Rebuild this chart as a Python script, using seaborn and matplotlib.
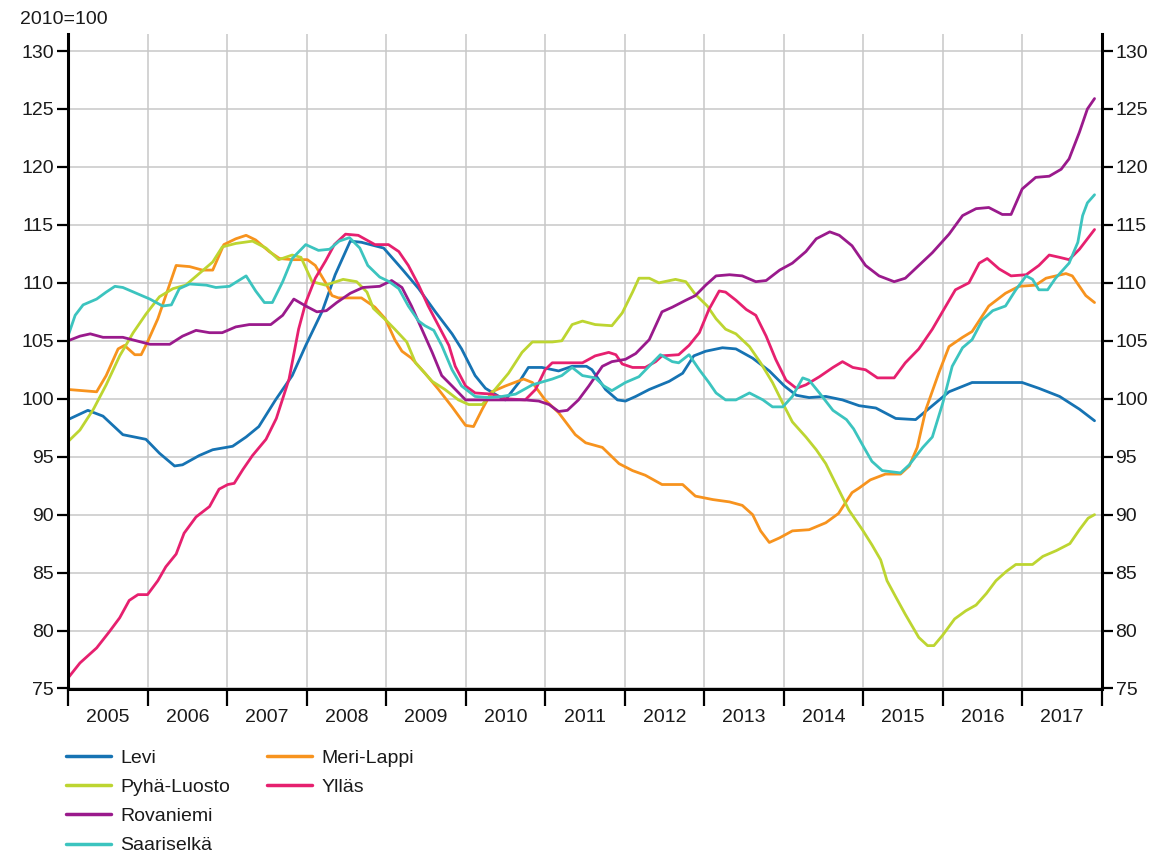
import matplotlib
matplotlib.use("Agg")
import matplotlib.pyplot as plt
import pandas as pd
import seaborn as sns
from matplotlib.lines import Line2D

sns.set_theme(style="white")
plt.rcParams["font.family"] = ["Liberation Sans", "DejaVu Sans"]

# ---------------- data (index 2010=100) ----------------
levi_t = [2005.0, 2005.25, 2005.44, 2005.69, 2005.98, 2006.15, 2006.34, 2006.44, 2006.65, 2006.82,
          2007.07, 2007.24, 2007.40, 2007.61, 2007.82, 2007.99, 2008.2, 2008.36, 2008.55, 2008.69,
          2008.97, 2009.20, 2009.41, 2009.62, 2009.83, 2009.95, 2010.12, 2010.25, 2010.42, 2010.50,
          2010.67, 2010.79, 2010.96, 2011.17, 2011.34, 2011.52, 2011.59, 2011.76, 2011.91, 2012.01,
          2012.14, 2012.31, 2012.56, 2012.73, 2012.87, 2013.02, 2013.23, 2013.40, 2013.61, 2013.82,
          2014.01, 2014.16, 2014.32, 2014.53, 2014.74, 2014.95, 2015.16, 2015.41, 2015.66, 2015.87,
          2016.08, 2016.37, 2016.67, 2017.00, 2017.21, 2017.47, 2017.72, 2017.91]
levi_v = [98.2, 99.0, 98.5, 96.9, 96.5, 95.3, 94.2, 94.3, 95.1, 95.6,
          95.9, 96.7, 97.6, 99.9, 102.0, 104.6, 107.6, 110.7, 113.6, 113.5,
          113.0, 111.2, 109.5, 107.5, 105.6, 104.3, 102.0, 100.9, 100.2, 99.9,
          101.4, 102.7, 102.7, 102.4, 102.8, 102.8, 102.5, 100.8, 99.9, 99.8,
          100.2, 100.8, 101.5, 102.2, 103.7, 104.1, 104.4, 104.3, 103.5, 102.4,
          101.1, 100.3, 100.1, 100.2, 99.9, 99.4, 99.2, 98.3, 98.2, 99.4,
          100.6, 101.4, 101.4, 101.4, 100.9, 100.2, 99.1, 98.1]

meri_t = [2005.0, 2005.36, 2005.48, 2005.63, 2005.71, 2005.84, 2005.92, 2006.0, 2006.13, 2006.23,
          2006.36, 2006.53, 2006.69, 2006.82, 2006.96, 2007.11, 2007.24, 2007.36, 2007.53, 2007.66,
          2007.82, 2008.01, 2008.11, 2008.24, 2008.32, 2008.40, 2008.69, 2008.86, 2008.99, 2009.11,
          2009.20, 2009.32, 2009.49, 2009.66, 2009.83, 2010.0, 2010.10, 2010.21, 2010.33, 2010.50,
          2010.73, 2010.84, 2011.0, 2011.17, 2011.38, 2011.51, 2011.72, 2011.93, 2012.10, 2012.26,
          2012.47, 2012.73, 2012.89, 2013.11, 2013.32, 2013.48, 2013.61, 2013.71, 2013.82, 2013.95,
          2014.11, 2014.32, 2014.53, 2014.69, 2014.86, 2014.95, 2015.09, 2015.28, 2015.47, 2015.58,
          2015.68, 2015.79, 2015.95, 2016.08, 2016.25, 2016.37, 2016.58, 2016.79, 2016.96, 2017.17,
          2017.30, 2017.55, 2017.63, 2017.80, 2017.91]
meri_v = [100.8, 100.6, 102.0, 104.3, 104.6, 103.8, 103.8, 104.9, 106.9, 108.9,
          111.5, 111.4, 111.1, 111.1, 113.3, 113.8, 114.1, 113.7, 112.7, 112.1,
          112.0, 112.0, 111.5, 110.0, 108.9, 108.7, 108.7, 107.9, 106.9, 105.1,
          104.1, 103.5, 102.2, 100.8, 99.3, 97.7, 97.6, 99.1, 100.6, 101.1,
          101.7, 101.4, 99.9, 98.8, 96.9, 96.2, 95.8, 94.4, 93.8, 93.4,
          92.6, 92.6, 91.6, 91.3, 91.1, 90.8, 90.0, 88.6, 87.6, 88.0,
          88.6, 88.7, 89.3, 90.1, 91.9, 92.3, 93.0, 93.5, 93.5, 94.2,
          95.8, 99.1, 102.2, 104.5, 105.3, 105.8, 108.0, 109.1, 109.7, 109.8,
          110.4, 110.8, 110.6, 108.9, 108.3]

pyha_t = [2005.0, 2005.15, 2005.32, 2005.48, 2005.65, 2005.82, 2005.98, 2006.15, 2006.32, 2006.48,
          2006.65, 2006.82, 2006.94, 2007.11, 2007.32, 2007.49, 2007.65, 2007.82, 2007.93, 2008.07,
          2008.24, 2008.46, 2008.63, 2008.76, 2008.84, 2009.01, 2009.11, 2009.26, 2009.37, 2009.58,
          2009.74, 2009.91, 2010.04, 2010.21, 2010.37, 2010.54, 2010.71, 2010.84, 2011.09, 2011.21,
          2011.34, 2011.47, 2011.63, 2011.84, 2011.97, 2012.10, 2012.18, 2012.31, 2012.43, 2012.64,
          2012.77, 2012.89, 2013.04, 2013.15, 2013.27, 2013.40, 2013.57, 2013.71, 2013.86, 2013.99,
          2014.11, 2014.28, 2014.41, 2014.53, 2014.66, 2014.82, 2014.99, 2015.11, 2015.22, 2015.30,
          2015.41, 2015.53, 2015.70, 2015.81, 2015.89, 2016.00, 2016.15, 2016.29, 2016.42, 2016.55,
          2016.67, 2016.80, 2016.92, 2017.13, 2017.26, 2017.43, 2017.60, 2017.72, 2017.83, 2017.91]
pyha_v = [96.3, 97.3, 99.1, 101.2, 103.7, 105.7, 107.3, 108.8, 109.5, 109.8,
          110.8, 111.8, 113.1, 113.4, 113.6, 113.0, 112.0, 112.4, 112.2, 110.1,
          109.8, 110.3, 110.1, 109.2, 107.8, 106.7, 106.0, 104.9, 103.1, 101.5,
          100.8, 99.9, 99.5, 99.5, 100.8, 102.2, 104.0, 104.9, 104.9, 105.0,
          106.4, 106.7, 106.4, 106.3, 107.4, 109.2, 110.4, 110.4, 110.0, 110.3,
          110.1, 109.0, 108.0, 106.9, 106.0, 105.6, 104.5, 103.1, 101.4, 99.6,
          98.0, 96.7, 95.6, 94.4, 92.6, 90.4, 88.7, 87.4, 86.1, 84.3,
          82.9, 81.4, 79.4, 78.7, 78.7, 79.6, 81.0, 81.7, 82.2, 83.2,
          84.3, 85.1, 85.7, 85.7, 86.4, 86.9, 87.5, 88.7, 89.7, 90.0]

rova_t = [2005.0, 2005.15, 2005.28, 2005.44, 2005.69, 2005.86, 2006.03, 2006.28, 2006.44, 2006.61,
          2006.78, 2006.94, 2007.11, 2007.28, 2007.55, 2007.70, 2007.84, 2007.99, 2008.13, 2008.25,
          2008.38, 2008.55, 2008.71, 2008.92, 2009.07, 2009.20, 2009.32, 2009.45, 2009.58, 2009.70,
          2009.83, 2010.0, 2010.25, 2010.50, 2010.75, 2010.92, 2011.05, 2011.17, 2011.28, 2011.42,
          2011.55, 2011.72, 2011.84, 2012.01, 2012.14, 2012.31, 2012.47, 2012.60, 2012.77, 2012.89,
          2013.02, 2013.15, 2013.32, 2013.48, 2013.65, 2013.78, 2013.95, 2014.11, 2014.28, 2014.41,
          2014.58, 2014.70, 2014.86, 2015.03, 2015.20, 2015.39, 2015.53, 2015.70, 2015.87, 2016.08,
          2016.25, 2016.42, 2016.58, 2016.75, 2016.86, 2017.00, 2017.17, 2017.34, 2017.49, 2017.59,
          2017.72, 2017.82, 2017.91]
rova_v = [105.0, 105.4, 105.6, 105.3, 105.3, 105.0, 104.7, 104.7, 105.4, 105.9,
          105.7, 105.7, 106.2, 106.4, 106.4, 107.2, 108.6, 108.0, 107.5, 107.6,
          108.3, 109.1, 109.6, 109.7, 110.2, 109.6, 108.0, 106.0, 104.0, 102.0,
          101.1, 99.9, 99.9, 99.9, 99.9, 99.8, 99.5, 98.9, 99.0, 99.9,
          101.1, 102.8, 103.2, 103.4, 103.9, 105.1, 107.5, 107.9, 108.5, 108.9,
          109.8, 110.6, 110.7, 110.6, 110.1, 110.2, 111.1, 111.7, 112.7, 113.8,
          114.4, 114.1, 113.2, 111.5, 110.6, 110.1, 110.4, 111.5, 112.6, 114.2,
          115.8, 116.4, 116.5, 115.9, 115.9, 118.1, 119.1, 119.2, 119.8, 120.7,
          123.0, 125.0, 125.9]

saari_t = [2005.0, 2005.09, 2005.19, 2005.36, 2005.48, 2005.59, 2005.69, 2005.86, 2006.03, 2006.19,
           2006.30, 2006.40, 2006.53, 2006.74, 2006.86, 2007.03, 2007.24, 2007.36, 2007.47, 2007.57,
           2007.70, 2007.82, 2007.99, 2008.15, 2008.29, 2008.41, 2008.54, 2008.67, 2008.77, 2008.92,
           2009.04, 2009.16, 2009.28, 2009.41, 2009.49, 2009.60, 2009.70, 2009.83, 2009.95, 2010.12,
           2010.29, 2010.46, 2010.63, 2010.84, 2011.09, 2011.21, 2011.34, 2011.47, 2011.63, 2011.74,
           2011.84, 2012.01, 2012.18, 2012.35, 2012.45, 2012.60, 2012.68, 2012.81, 2012.94, 2013.06,
           2013.15, 2013.27, 2013.40, 2013.57, 2013.74, 2013.86, 2013.99, 2014.11, 2014.24, 2014.32,
           2014.45, 2014.62, 2014.79, 2014.88, 2015.01, 2015.11, 2015.24, 2015.47, 2015.58, 2015.75,
           2015.87, 2016.00, 2016.12, 2016.25, 2016.37, 2016.50, 2016.63, 2016.79, 2016.92, 2017.05,
           2017.13, 2017.21, 2017.32, 2017.42, 2017.59, 2017.70, 2017.76, 2017.82, 2017.91]
saari_v = [105.4, 107.2, 108.1, 108.6, 109.2, 109.7, 109.6, 109.1, 108.6, 108.0,
           108.1, 109.5, 109.9, 109.8, 109.6, 109.7, 110.6, 109.3, 108.3, 108.3,
           110.1, 112.1, 113.3, 112.8, 112.9, 113.6, 113.9, 113.0, 111.5, 110.5,
           110.1, 109.5, 108.0, 106.7, 106.3, 105.9, 104.6, 102.5, 101.1, 100.2,
           100.1, 100.2, 100.4, 101.2, 101.7, 102.0, 102.7, 102.0, 101.8, 101.1,
           100.7, 101.4, 101.9, 103.1, 103.8, 103.2, 103.1, 103.8, 102.5, 101.4,
           100.5, 99.9, 99.9, 100.5, 99.9, 99.3, 99.3, 100.2, 101.8, 101.6,
           100.5, 99.0, 98.2, 97.4, 95.8, 94.6, 93.8, 93.6, 94.3, 95.8,
           96.7, 99.6, 102.8, 104.4, 105.1, 106.8, 107.6, 108.0, 109.4, 110.6,
           110.3, 109.4, 109.4, 110.4, 111.7, 113.5, 115.8, 116.9, 117.6]

ylla_t = [2005.0, 2005.15, 2005.36, 2005.52, 2005.65, 2005.77, 2005.88, 2006.0, 2006.13, 2006.23,
          2006.36, 2006.46, 2006.61, 2006.78, 2006.90, 2007.01, 2007.09, 2007.20, 2007.32, 2007.49,
          2007.62, 2007.78, 2007.90, 2007.99, 2008.11, 2008.24, 2008.35, 2008.49, 2008.65, 2008.86,
          2009.03, 2009.16, 2009.28, 2009.41, 2009.53, 2009.66, 2009.79, 2009.87, 2010.0, 2010.12,
          2010.33, 2010.50, 2010.75, 2010.88, 2011.00, 2011.09, 2011.26, 2011.47, 2011.63, 2011.80,
          2011.89, 2011.97, 2012.10, 2012.26, 2012.39, 2012.47, 2012.68, 2012.81, 2012.94, 2013.06,
          2013.19, 2013.27, 2013.40, 2013.53, 2013.65, 2013.78, 2013.90, 2014.03, 2014.16, 2014.28,
          2014.45, 2014.62, 2014.74, 2014.87, 2015.03, 2015.18, 2015.39, 2015.53, 2015.70, 2015.87,
          2016.04, 2016.16, 2016.33, 2016.46, 2016.56, 2016.71, 2016.86, 2017.05, 2017.21, 2017.34,
          2017.47, 2017.59, 2017.72, 2017.91]
ylla_v = [75.9, 77.2, 78.5, 79.9, 81.1, 82.6, 83.1, 83.1, 84.3, 85.5,
          86.6, 88.4, 89.8, 90.7, 92.2, 92.6, 92.7, 93.9, 95.1, 96.5,
          98.3, 101.7, 106.0, 108.3, 110.4, 111.9, 113.3, 114.2, 114.1, 113.3,
          113.3, 112.7, 111.5, 109.8, 108.0, 106.3, 104.6, 102.8, 101.1, 100.5,
          100.4, 100.0, 99.9, 100.8, 102.5, 103.1, 103.1, 103.1, 103.7, 104.0,
          103.8, 103.0, 102.7, 102.7, 103.2, 103.7, 103.8, 104.6, 105.7, 107.7,
          109.3, 109.2, 108.5, 107.7, 107.2, 105.4, 103.4, 101.6, 100.9, 101.2,
          101.9, 102.7, 103.2, 102.7, 102.5, 101.8, 101.8, 103.1, 104.3, 106.0,
          108.0, 109.4, 110.0, 111.7, 112.1, 111.2, 110.6, 110.7, 111.5, 112.4,
          112.2, 112.0, 112.9, 114.6]

areas = ["Levi", "Meri-Lappi", "Pyhä-Luosto", "Ylläs", "Rovaniemi", "Saariselkä"]
year_labels = [str(y) for y in range(2005, 2018)]
y_ticks = list(range(75, 131, 5))

series = {
    "Levi": (levi_t, levi_v),
    "Meri-Lappi": (meri_t, meri_v),
    "Pyhä-Luosto": (pyha_t, pyha_v),
    "Ylläs": (ylla_t, ylla_v),
    "Rovaniemi": (rova_t, rova_v),
    "Saariselkä": (saari_t, saari_v),
}
palette = {
    "Levi": "#1673b3",
    "Meri-Lappi": "#f7931e",
    "Pyhä-Luosto": "#bdd531",
    "Ylläs": "#e6206f",
    "Rovaniemi": "#9a1a8c",
    "Saariselkä": "#3cc4bf",
}

df = pd.concat(
    [pd.DataFrame({"year": t, "value": v, "area": name}) for name, (t, v) in series.items()],
    ignore_index=True,
)

# ---------------- figure ----------------
W, H = 1169, 855
fig = plt.figure(figsize=(W / 100, H / 100), dpi=100)
ax = fig.add_axes([68 / W, 1 - 688.5 / H, (1101.7 - 68) / W, (688.5 - 34) / H])

sns.lineplot(data=df, x="year", y="value", hue="area", hue_order=areas, palette=palette,
             estimator=None, linewidth=2.0, legend=False, ax=ax)

ax.set_xlim(2005, 2018)
ax.set_ylim(75, 131.47)
ax.set_xlabel("")
ax.set_ylabel("")

ax.set_yticks(y_ticks)
ax.set_yticklabels([str(v) for v in y_ticks])
ax.set_xticks(range(2005, 2019))
ax.set_xticklabels([""] * 14)
ax.set_xticks([int(y) + 0.5 for y in year_labels], minor=True)
ax.set_xticklabels(year_labels, minor=True)

ax.tick_params(axis="x", which="major", direction="out", length=12.5, width=1.6,
               color="black", bottom=True, labelbottom=False)
ax.tick_params(axis="x", which="minor", length=0, pad=15, labelsize=14, colors="#1a1a1a")
ax.tick_params(axis="y", which="major", direction="out", length=8, width=1.6,
               color="black", left=True, right=True, labelleft=True, labelright=True,
               labelsize=14, pad=2, labelcolor="#1a1a1a")

ax.grid(True, which="major", color="#c8c8c8", linewidth=1.1)
ax.set_axisbelow(True)
for side in ["left", "right", "bottom"]:
    ax.spines[side].set_visible(True)
    ax.spines[side].set_color("black")
    ax.spines[side].set_linewidth(2.2)
ax.spines["top"].set_visible(False)

fig.text(20 / W, 1 - 20 / H, "2010=100", fontsize=14, ha="left", va="center", color="#1a1a1a")

# legend: 4 entries in the first column, 2 in the second
col_order = ["Levi", "Pyhä-Luosto", "Rovaniemi", "Saariselkä", "Meri-Lappi", "Ylläs"]
handles = [Line2D([], [], color=palette[n], linewidth=2.5) for n in col_order]
labels = list(col_order)
handles += [Line2D([], [], color="none")] * 2
labels += ["", ""]
fig.legend(handles, labels, ncol=2, loc="upper left", bbox_to_anchor=(66 / W, 1 - 749 / H),
           frameon=False, fontsize=14, handlelength=2.3, handletextpad=0.5,
           columnspacing=1.9, labelspacing=0.6, borderpad=0, borderaxespad=0,
           labelcolor="#1a1a1a")

fig.savefig("out.png", dpi=100)
